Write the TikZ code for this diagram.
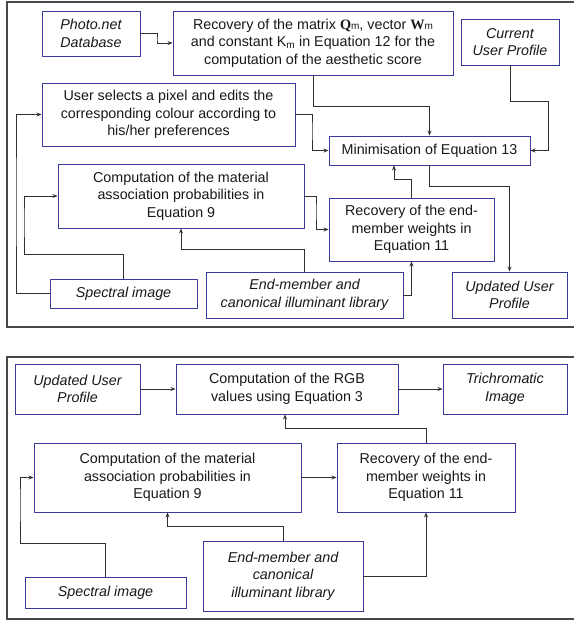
\documentclass[tikz,border=0pt]{standalone}
\usepackage{fontspec}
\setmainfont{Liberation Sans}
\newfontfamily\serifbold{Liberation Serif}
\usetikzlibrary{arrows.meta,calc}
\definecolor{boxblue}{HTML}{3A3A9C}
\definecolor{framegray}{HTML}{484848}
\definecolor{linegray}{HTML}{303030}
\newcommand{\subm}{{\fontsize{10}{10}\selectfont m}}
\begin{document}
\begin{tikzpicture}[x=1pt,y=-1pt,
  every node/.style={font=\fontsize{14.3}{17.5}\selectfont},
  blk/.style={draw=boxblue,line width=0.9pt,fill=white,align=center,inner sep=0pt,text=black!90},
  itblk/.style={blk,font=\fontsize{14.3}{17.5}\selectfont\itshape},
  frame/.style={draw=framegray,line width=1.3pt},
  arr/.style={draw=linegray,line width=0.8pt,-{Stealth[length=5pt,width=4pt]}}]
\useasboundingbox (0,0) rectangle (573,621);
% frames
\draw[frame] (580,2) -- (7,2) -- (7,327) -- (580,327);
\draw[frame] (580,357) -- (7,357) -- (7,619) -- (580,619);
% ---------- top panel ----------
\node[itblk,minimum width=98,minimum height=45] (photo) at (91,33.5) {Photo.net\\Database};
\node[blk,minimum width=280,minimum height=64] (recm) at (313,43) {Recovery of the matrix {\serifbold\bfseries Q}\subm, vector {\serifbold\bfseries W}\subm\\and constant K\textsubscript{m} in Equation 12 for the\\computation of the aesthetic score};
\node[itblk,minimum width=98,minimum height=46] (cur) at (510,42) {Current\\User Profile};
\node[blk,minimum width=253,minimum height=63] (user) at (168.5,114.5) {User selects a pixel and edits the\\corresponding colour according to\\his/her preferences};
\node[blk,minimum width=201,minimum height=29] (mini) at (429.5,150.5) {Minimisation of Equation 13};
\node[blk,minimum width=246,minimum height=64] (comp1) at (181,196) {Computation of the material\\association probabilities in\\Equation 9};
\node[blk,minimum width=165,minimum height=63] (rec1) at (411.5,229.5) {Recovery of the end-\\member weights in\\Equation 11};
\node[itblk,minimum width=147,minimum height=29] (spec1) at (123.5,293.5) {Spectral image};
\node[itblk,minimum width=197,minimum height=46] (lib1) at (304.5,295) {End-member and\\canonical illuminant library};
\node[itblk,minimum width=115,minimum height=46] (upd1) at (509.5,295) {Updated User\\Profile};
% connectors top
\draw[arr] (photo.east) -| (157,40) |- (recm.west);
\draw[arr] (recm.south) -- ++(0,31) -| (mini.north);
\draw[arr] (cur.south) |- (548,101) |- (mini.east);
\draw[arr] (user.east) -| (312,130) |- (mini.west);
\draw[arr] (mini.south) -- ++(0,21) -| (upd1.north);
\draw[arr] (rec1.north) -- ++(0,-18) -| ($(mini.south)+(-35.5,0)$);
\draw[arr] (comp1.east) -| (316,210) |- (rec1.west);
\draw[arr] (lib1.north) -- ++(0,-22) -| (comp1.south);
\draw[arr] (lib1.east) -| (rec1.south);
\draw[arr] (spec1.north) -- ++(0,-24) -| (24,220) |- (comp1.west);
\draw[arr] (spec1.west) -| (16,200) |- (user.west);
% ---------- bottom panel ----------
\node[itblk,minimum width=125,minimum height=50] (upd2) at (77.5,389) {Updated User\\Profile};
\node[blk,minimum width=222,minimum height=50] (rgb) at (287,389) {Computation of the RGB\\values using Equation 3};
\node[itblk,minimum width=124,minimum height=50] (tri) at (505,389) {Trichromatic\\Image};
\node[blk,minimum width=267,minimum height=69] (comp2) at (167.5,477.5) {Computation of the material\\association probabilities in\\Equation 9};
\node[blk,minimum width=178,minimum height=69] (rec2) at (426,477.5) {Recovery of the end-\\member weights in\\Equation 11};
\node[itblk,minimum width=161,minimum height=31] (spec2) at (105.5,592.5) {Spectral image};
\node[itblk,minimum width=160,minimum height=70] (lib2) at (283,576) {End-member and\\canonical\\illuminant library};
% connectors bottom
\draw[arr] (upd2.east) -- (rgb.west);
\draw[arr] (rgb.east) -- (tri.west);
\draw[arr] (rec2.north) -- ++(0,-14) -| ($(rgb.south)+(-2,0)$);
\draw[arr] (comp2.east) -- (rec2.west);
\draw[arr] (spec2.north) -- ++(0,-33) -| (20,500) |- (comp2.west);
\draw[arr] (lib2.north) -- ++(0,-14) -| (comp2.south);
\draw[arr] (lib2.east) -| (rec2.south);
\end{tikzpicture}
\end{document}
